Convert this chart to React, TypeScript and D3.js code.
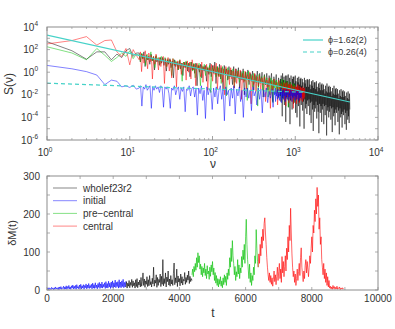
import React from 'react';
import * as d3 from 'd3';

// ---- top panel: spectra S(nu), stored as log10(S)
// low part: nu = 1..12, then segments log-spaced between the given nu bounds
const blackLow = [2.7, 1.9, 1.15, 1.8, 1.8, 1.1, 1.6, 1.3, 1.9, 2.1, 1.4, 1.7];
const blackMid = [
  1.7, 0.9, 1.6, 1.2, 1.8, 0.5, 1.5, 1.1, 1.4, 0.7, 1.6, 1.0, 1.3, 0.2, 1.4, 0.9, 1.2, 0.6, 1.3, 0.8,
  1.3, 0.6, 1.2, 0.1, 1.1, 0.7, 1.2, 0.4, 1.0, -0.5, 1.1, 0.5, 0.9, 0.2, 1.0, 0.3, 0.8, -0.3, 0.9, 0.4,
  0.9, 0.1, 0.8, -0.4, 0.9, 0.2, 0.7, -0.1, 0.8, -1.2, 0.6, 0.0, 0.7, -0.5, 0.5, 0.1, 0.6, -0.8, 0.4, -0.2,
  0.8, -0.4, 0.6, -0.1, 0.9, -1.0, 0.5, -0.3, 0.7, -0.6, 0.4, -1.6, 0.6, -0.2, 0.3, -0.7, 0.5, -0.4, 0.2, -1.1,
  0.5, -0.9, 0.3, -0.5, 0.4, -1.4, 0.1, -0.7, 0.3, -2.0, 0.0, -0.6, 0.2, -1.1, -0.1, -0.8, 0.1, -1.6, -0.2, -0.9,
  0.1, -1.3, -0.1, -0.9, 0.0, -2.2, -0.2, -1.1, -0.1, -1.6, -0.3, -1.0, -0.1, -2.6, -0.4, -1.2, -0.2, -1.8, -0.5, -1.3,
];
const blackTail = [
  -0.2, -2.1, -0.6, -2.6, -0.3, -1.5, -0.9, -3.9, -0.1, -2.3, -0.7, -1.8, -0.4, -2.9, -1.0, -1.6, -0.3, -4.4, -0.8, -2.2,
  -0.3, -2.4, -0.8, -1.7, -0.2, -3.1, -1.1, -2.0, -0.5, -4.6, -0.9, -2.5, -0.3, -1.9, -1.2, -3.3, -0.6, -2.2, -0.4, -2.8,
  -0.4, -2.7, -1.0, -2.1, -0.3, -3.6, -0.8, -2.4, -1.3, -4.0, -0.5, -2.0, -0.9, -3.0, -0.4, -2.6, -1.1, -4.8, -0.6, -2.3,
  -0.5, -2.9, -1.2, -2.2, -0.6, -3.4, -0.9, -2.6, -1.4, -5.0, -0.5, -2.4, -1.0, -3.2, -0.7, -2.8, -1.3, -3.7, -0.6, -2.5,
  -0.7, -3.0, -1.3, -2.4, -0.6, -3.8, -1.1, -2.7, -1.5, -4.5, -0.8, -2.6, -1.2, -3.3, -0.7, -5.2, -1.4, -2.9, -0.9, -3.5,
  -0.9, -3.2, -1.5, -2.6, -0.8, -4.1, -1.3, -2.9, -1.7, -3.5, -1.0, -5.4, -1.4, -2.8, -0.9, -3.6, -1.6, -3.0, -1.1, -4.4,
  -1.0, -3.3, -1.6, -2.8, -1.1, -4.6, -1.5, -3.0, -1.9, -3.8, -1.2, -2.9, -1.7, -5.6, -1.0, -3.4, -1.8, -3.1, -1.3, -4.0,
  -1.2, -3.5, -1.8, -3.0, -1.3, -4.2, -1.7, -3.2, -2.1, -5.3, -1.4, -3.1, -1.9, -3.9, -1.2, -3.6, -2.0, -4.7, -1.5, -3.3,
  -1.4, -3.6, -2.0, -3.1, -1.5, -4.4, -1.9, -3.4, -2.3, -5.5, -1.6, -3.2, -2.1, -4.0, -1.5, -3.7, -2.2, -4.9, -1.7, -3.5,
  -1.6, -3.8, -2.2, -3.3, -1.7, -4.6, -2.1, -3.6, -2.5, -5.1, -1.8, -3.4, -2.3, -4.2, -1.7, -3.9, -2.4, -4.5, -1.9, -3.3,
];
const blackNu = [13, 650, 4570];

const redLow = [2.5, 2.8, 3.15, 2.4, 2.8, 2.85, 1.8, 1.4, 2.1, 0.65, 2.0, 1.5];
const redMid = [
  1.1, 1.8, 0.05, 1.6, 0.8, 1.9, 1.2, 0.3, 1.7, 0.9, 1.5, -0.6, 1.4, 0.7, 1.6, 1.0, 0.2, 1.3, 0.5, 1.2,
  1.4, -1.0, 1.2, 0.5, 1.3, 0.1, 1.1, -0.5, 1.2, 0.6, 0.9, -1.3, 1.0, 0.3, 1.1, -0.2, 0.8, 0.4, 0.9, -0.7,
  1.0, 0.0, 0.9, -0.6, 1.1, 0.2, 0.7, -1.2, 0.8, 0.3, 0.6, -0.4, 0.9, -0.9, 0.5, 0.1, 0.7, -1.6, 0.4, -0.1,
  0.7, -0.8, 0.6, -0.2, 0.8, -1.5, 0.4, -0.4, 0.6, -0.9, 0.3, -2.0, 0.5, -0.3, 0.2, -1.1, 0.4, -0.6, 0.1, -1.4,
  0.3, -1.0, 0.1, -0.6, 0.2, -2.4, -0.1, -0.9, 0.1, -1.5, -0.2, -0.8, 0.0, -2.8, -0.3, -1.1, -0.1, -1.7, -0.4, -1.2,
  -0.3, -1.5, -0.5, -1.1, -0.4, -2.6, -0.7, -1.3, -0.5, -3.2, -0.8, -1.6, -0.6, -1.2, -0.9, -2.9, -0.7, -1.8, -1.0, -1.4,
];
const redTail = [
  -0.8, -2.0, -1.2, -1.6, -0.9, -2.5, -1.3, -1.8, -1.0, -3.0, -1.4, -1.7, -0.9, -2.2, -1.5, -1.9, -1.1, -2.7, -1.2, -1.8,
  -1.0, -2.3, -1.4, -1.9, -1.1, -2.6, -1.5, -2.0, -1.2, -3.2, -1.3, -1.9, -1.6, -2.4, -1.2, -2.1, -1.4, -2.8, -1.3, -2.0,
  -1.1, -2.4, -1.5, -2.0, -1.2, -2.7, -1.6, -2.1, -1.3, -2.5, -1.4, -2.2, -1.7, -2.6, -1.3, -2.3, -1.5, -2.4, -1.4, -2.2,
];
const redNu = [13, 700, 1300];

const greenLow = [2.25, 1.7, 1.1, 2.1, 1.5, 0.95, 1.3, 1.7, 1.4, 1.9, 1.2, 1.6];
const greenMid = [
  1.5, 0.9, 1.7, 1.2, 1.4, 0.6, 1.6, 1.1, 1.3, 1.8, 1.0, 1.4, 0.4, 1.5, 1.1, 1.3, 0.7, 1.4, 1.0, 1.2,
  1.3, 0.5, 1.2, 0.8, 1.1, -0.3, 1.2, 0.6, 1.0, 0.9, 0.2, 1.1, 0.7, -0.8, 0.9, 0.5, 1.0, 0.3, 0.8, 0.6,
  0.9, 0.1, 0.8, -0.5, 0.7, 0.3, 0.8, -1.2, 0.6, 0.2, 0.7, -0.3, 0.5, 0.0, 0.6, -1.8, 0.4, 0.1, 0.5, -0.4,
  0.5, -0.4, 0.4, -1.0, 0.5, -0.2, 0.3, -2.1, 0.4, -0.6, 0.2, -0.3, 0.3, -1.4, 0.1, -0.5, 0.2, -0.9, 0.0, -0.4,
  0.1, -0.8, 0.0, -2.5, 0.1, -0.7, -0.2, -1.3, -0.1, -0.9, -0.3, -3.0, -0.2, -1.0, -0.4, -1.6, -0.3, -1.1, -0.5, -2.2,
];
const greenTail = [
  -0.4, -1.3, -0.6, -2.0, -0.5, -1.5, -0.7, -2.7, -0.6, -1.4, -0.8, -1.9, -0.7, -1.6, -0.9, -2.3, -0.8, -1.5, -1.0, -1.8,
  -0.6, -1.7, -0.9, -2.4, -0.7, -1.4, -1.0, -2.1, -0.8, -3.1, -1.1, -1.6, -0.9, -2.0, -1.2, -1.7, -1.0, -2.6, -1.1, -1.9,
];
const greenNu = [13, 470, 1000];

const blueLow = [0.6, 0.3, 0.05, -0.25, -1.1, -0.7, -0.8, -1.3, -1.2, -1.35, -1.15, -1.5];
const blueMid = [
  -1.4, -1.2, -3.0, -1.3, -1.5, -1.1, -1.6, -1.4, -1.2, -3.2, -1.3, -1.6, -1.2, -1.5, -1.3, -1.8, -1.2, -1.4, -3.1, -1.3,
  -1.5, -1.3, -1.9, -3.2, -1.4, -1.6, -1.2, -2.0, -1.5, -1.3, -2.4, -1.4, -1.7, -1.3, -3.5, -1.5, -1.6, -1.2, -2.1, -1.4,
  -1.3, -2.2, -1.5, -3.8, -1.4, -1.9, -1.2, -2.5, -1.6, -4.1, -1.3, -2.0, -1.5, -1.7, -3.3, -1.4, -2.2, -1.3, -2.8, -1.6,
  -1.2, -2.4, -1.5, -4.3, -1.3, -2.0, -1.6, -3.0, -1.4, -2.3, -1.2, -3.7, -1.5, -2.1, -1.3, -2.6, -1.6, -4.0, -1.4, -2.2,
  -1.4, -2.3, -1.6, -3.4, -1.3, -2.1, -1.7, -2.9, -1.4, -2.4, -1.5, -3.6, -1.6, -2.2, -1.4, -2.7, -1.7, -2.3, -1.5, -3.1,
];
const blueTail = [
  -1.5, -2.3, -1.7, -2.0, -1.4, -2.6, -1.8, -2.1, -1.6, -2.4, -1.5, -2.2, -1.9, -2.5, -1.6, -2.0, -1.4, -2.7, -1.7, -2.2,
  -1.6, -2.4, -1.5, -2.1, -1.8, -2.6, -1.6, -2.3, -1.5, -2.0, -1.7, -2.5, -1.6, -2.2, -1.9, -2.4, -1.5, -2.1, -1.7, -2.6,
  -1.6, -2.3, -1.8, -2.1, -1.5, -2.5, -1.7, -2.2, -1.6, -2.4, -1.8, -2.0, -1.6, -2.5, -1.7, -2.3, -1.6, -2.2, -1.8, -2.4,
];
const blueNu = [13, 540, 1200];

// power-law fits S = amp * nu^-phi
const fitLabels = ['ϕ=1.62(2)', 'ϕ=0.26(4)'];
const fitPhi = [1.62, 0.26];
const fitAmp = [1950, 0.107];
const fitNuEnd = [4570, 1300];

// ---- bottom panel: deltaM(t), evenly sampled segments
const blueT0 = 0, blueDt = 20;
const blueDM = [
  2, 5, 1, 6, 2, 4, 1, 7, 3, 5, 1, 6, 2, 8, 3, 5, 2, 7, 1, 8,
  3, 9, 2, 6, 4, 10, 2, 8, 3, 11, 2, 9, 4, 12, 3, 8, 2, 11, 5, 13,
  3, 10, 4, 12, 2, 14, 5, 9, 3, 13, 4, 15, 3, 11, 5, 14, 2, 12, 6, 16,
  3, 13, 5, 17, 4, 12, 6, 15, 3, 18, 5, 14, 4, 19, 6, 13, 3, 17, 7, 20,
  4, 16, 6, 21, 5, 15, 8, 19, 4, 22, 6, 17, 5, 23, 8, 18, 4, 21, 7, 24,
  5, 19, 8, 26, 6, 20, 9, 22, 5, 27, 7, 21, 6, 24, 9, 28, 6, 20, 8, 23,
];
const blackT0 = 2380, blackDt = 20;
const blackDM = [
  8, 22, 5, 18, 10, 25, 6, 20, 12, 28, 7, 24, 11, 19, 5, 27, 9, 30, 6, 21,
  13, 26, 8, 33, 10, 22, 45, 12, 29, 7, 24, 15, 35, 9, 27, 11, 38, 14, 22, 8,
  31, 16, 60, 10, 26, 18, 40, 7, 33, 12, 28, 20, 42, 9, 36, 15, 80, 11, 30, 17,
  45, 8, 34, 22, 50, 13, 29, 10, 38, 16, 27, 12, 44, 71, 14, 32, 19, 55, 9, 37,
  21, 30, 11, 42, 18, 35, 13, 28, 24, 46, 15, 33, 20, 39, 26, 50, 17, 36, 22, 30, 25,
];
const greenT0 = 4380, greenDt = 20;
const greenDM = [
  40, 55, 35, 62, 48, 70, 52, 85, 60, 98, 72, 90, 55, 68, 40, 62, 35, 58, 45, 70,
  38, 55, 30, 64, 42, 50, 28, 60, 36, 66, 48, 75, 40, 58, 25, 46, 18, 38, 12, 30,
  8, 28, 15, 35, 10, 24, 6, 32, 14, 40, 20, 36, 12, 45, 28, 55, 38, 85, 60, 110,
  75, 130, 90, 70, 40, 62, 25, 48, 35, 80, 42, 66, 30, 58, 45, 88, 60, 105, 80, 120,
  70, 140, 186, 120, 80, 55, 30, 68, 20, 45, 12, 38, 25, 60, 40, 90, 70, 159, 110, 75, 60,
];
const redT0 = 6380, redDt = 20;
const redDM = [
  60, 95, 70, 120, 90, 140, 110, 160, 130, 175, 190, 150, 120, 85, 60, 40, 25, 45, 20, 38,
  15, 32, 10, 28, 50, 22, 40, 14, 35, 60, 25, 48, 70, 30, 55, 20, 88, 45, 75, 35,
  62, 90, 50, 110, 80, 140, 100, 170, 130, 215, 150, 95, 60, 35, 50, 20, 42, 12, 30, 55,
  25, 48, 70, 38, 85, 111, 60, 40, 22, 50, 30, 65, 80, 45, 75, 55, 35, 60, 90, 70,
  110, 140, 100, 170, 150, 210, 180, 240, 200, 270, 220, 250, 160, 190, 120, 140, 80, 60, 40, 70,
  30, 55, 20, 45, 12, 35, 8, 25, 5, 10, 3, 8, 2, 12, 4, 9, 2, 7, 3, 10,
  2, 6, 4, 8, 1, 5, 3, 6, 2, 4,
];

const legendNames = ['wholef23r2', 'initial', 'pre\u2212central', 'central'];
const seriesColors = ['#000000', '#0000ff', '#00c000', '#ff0000'];

const xTicksTop = [1, 10, 100, 1000, 10000];
const yTicksTop = [1e-6, 1e-4, 1e-2, 1, 1e2, 1e4];
const xTicksBot = [0, 2000, 4000, 6000, 8000, 10000];
const yTicksBot = [0, 100, 200, 300];

const FONT = 'Liberation Sans, Arial, Helvetica, sans-serif';
const FRAME = '#8c8c8c';
const TXT = '#333';

const xS = d3.scaleLog().domain([1, 1e4]).range([47, 378]);
const yS = d3.scaleLog().domain([1e-6, 1e4]).range([140, 27]);
const xT = d3.scaleLinear().domain([0, 10000]).range([47, 378]);
const yT = d3.scaleLinear().domain([0, 300]).range([290, 176]);

// low values sit on nu = 1..12; each later segment is spread log-evenly between its bounds
function spectrum(low: number[], segs: number[][], bounds: number[]): [number, number][] {
  const pts: [number, number][] = low.map((v, i) => [i + 1, Math.pow(10, v)]);
  segs.forEach((vals, s) => {
    const a = bounds[s], b = bounds[s + 1], n = vals.length;
    vals.forEach((v, i) => {
      if (s > 0 && i === 0) return;
      pts.push([a * Math.pow(b / a, i / (n - 1)), Math.pow(10, v)]);
    });
  });
  return pts;
}

function timeSeries(t0: number, dt: number, vals: number[]): [number, number][] {
  return vals.map((v, i) => [t0 + i * dt, v]);
}

const specLine = d3.line<[number, number]>().x(d => xS(d[0])).y(d => yS(d[1]));
const timeLine = d3.line<[number, number]>().x(d => xT(d[0])).y(d => yT(d[1]));

function Pow10({ x, y, e, anchor }: { x: number; y: number; e: number; anchor: string }) {
  return (
    <text x={x} y={y} textAnchor={anchor} fontSize={10} fill={TXT} fontFamily={FONT}>
      10<tspan dy={-4.5} fontSize={6.5}>{String(e)}</tspan>
    </text>
  );
}

export default function App() {
  // draw order: whole, pre-central, central, initial
  const spectra = [
    { pts: spectrum(blackLow, [blackMid, blackTail], blackNu), c: seriesColors[0] },
    { pts: spectrum(greenLow, [greenMid, greenTail], greenNu), c: seriesColors[2] },
    { pts: spectrum(redLow, [redMid, redTail], redNu), c: seriesColors[3] },
    { pts: spectrum(blueLow, [blueMid, blueTail], blueNu), c: seriesColors[1] },
  ];
  const times = [
    { pts: timeSeries(blackT0, blackDt, blackDM), c: seriesColors[0] },
    { pts: timeSeries(blueT0, blueDt, blueDM), c: seriesColors[1] },
    { pts: timeSeries(greenT0, greenDt, greenDM), c: seriesColors[2] },
    { pts: timeSeries(redT0, redDt, redDM), c: seriesColors[3] },
  ];

  const minorX: number[] = [];
  for (let d = 1; d < 1e4; d *= 10) for (let k = 2; k <= 9; k++) minorX.push(d * k);
  const minorY: number[] = [];
  for (let d = 1e-6; d < 1e4; d *= 10) minorY.push(d);
  const minorXB = d3.range(0, 10001, 1000);
  const minorYB = d3.range(0, 301, 50);

  const [tx0, tx1] = xS.range();
  const [ty1, ty0] = yS.range();
  const [bx0, bx1] = xT.range();
  const [by1, by0] = yT.range();

  return (
    <svg width={395} height={329} style={{ position: 'absolute', left: 0, top: 0, background: '#fff' }}>
      <defs>
        <clipPath id="clipTop"><rect x={tx0} y={ty0} width={tx1 - tx0} height={ty1 - ty0} /></clipPath>
        <clipPath id="clipBot"><rect x={bx0} y={by0} width={bx1 - bx0} height={by1 - by0} /></clipPath>
      </defs>

      {/* ---------- top panel ---------- */}
      <g clipPath="url(#clipTop)">
        {spectra.map((s, i) => (
          <path key={i} d={specLine(s.pts) || ''} fill="none" stroke={s.c} strokeWidth={0.7} strokeOpacity={0.7} />
        ))}
        {fitPhi.map((phi, i) => (
          <line key={i}
            x1={xS(1)} y1={yS(fitAmp[i])}
            x2={xS(fitNuEnd[i])} y2={yS(fitAmp[i] * Math.pow(fitNuEnd[i], -phi))}
            stroke="#46d2c8" strokeWidth={1.2} strokeDasharray={i === 1 ? '4,3' : undefined} />
        ))}
      </g>
      <rect x={tx0} y={ty0} width={tx1 - tx0} height={ty1 - ty0} fill="none" stroke={FRAME} strokeWidth={1} />
      {minorX.map((v, i) => (
        <g key={'mx' + i} stroke={FRAME} strokeWidth={0.6}>
          <line x1={xS(v)} x2={xS(v)} y1={ty1} y2={ty1 - 2} />
          <line x1={xS(v)} x2={xS(v)} y1={ty0} y2={ty0 + 2} />
        </g>
      ))}
      {xTicksTop.map((v, i) => (
        <g key={'xt' + i}>
          <line x1={xS(v)} x2={xS(v)} y1={ty1} y2={ty1 - 4} stroke={FRAME} strokeWidth={0.8} />
          <line x1={xS(v)} x2={xS(v)} y1={ty0} y2={ty0 + 4} stroke={FRAME} strokeWidth={0.8} />
          <Pow10 x={xS(v) - 2} y={156} e={Math.round(Math.log10(v))} anchor="middle" />
        </g>
      ))}
      {minorY.map((v, i) => (
        <g key={'my' + i} stroke={FRAME} strokeWidth={0.7}>
          <line x1={tx0} x2={tx0 + 3} y1={yS(v)} y2={yS(v)} />
          <line x1={tx1} x2={tx1 - 3} y1={yS(v)} y2={yS(v)} />
        </g>
      ))}
      {yTicksTop.map((v, i) => (
        <Pow10 key={'yt' + i} x={38} y={yS(v) + 3.5} e={Math.round(Math.log10(v))} anchor="end" />
      ))}
      <text x={213} y={168} textAnchor="middle" fontSize={12} fill={TXT} fontFamily={FONT}>ν</text>
      <text transform="translate(13,84) rotate(-90)" textAnchor="middle" fontSize={12} fill={TXT} fontFamily={FONT}>S(ν)</text>
      {fitLabels.map((lab, i) => (
        <g key={'fl' + i}>
          <line x1={303} x2={323} y1={40 + i * 12} y2={40 + i * 12} stroke="#46d2c8" strokeWidth={1.2}
            strokeDasharray={i === 1 ? '4,3' : undefined} />
          <text x={328} y={43 + i * 12} fontSize={9} fill={TXT} fontFamily={FONT}>{lab}</text>
        </g>
      ))}

      {/* ---------- bottom panel ---------- */}
      <g clipPath="url(#clipBot)">
        {times.map((s, i) => (
          <path key={i} d={timeLine(s.pts) || ''} fill="none" stroke={s.c} strokeWidth={0.75} strokeOpacity={0.8} />
        ))}
      </g>
      <rect x={bx0} y={by0} width={bx1 - bx0} height={by1 - by0} fill="none" stroke={FRAME} strokeWidth={1} />
      {minorXB.map((v, i) => (
        <g key={'bx' + i} stroke={FRAME} strokeWidth={0.7}>
          <line x1={xT(v)} x2={xT(v)} y1={by1} y2={by1 - 3} />
          <line x1={xT(v)} x2={xT(v)} y1={by0} y2={by0 + 3} />
        </g>
      ))}
      {minorYB.map((v, i) => (
        <g key={'by' + i} stroke={FRAME} strokeWidth={0.7}>
          <line x1={bx0} x2={bx0 + 3} y1={yT(v)} y2={yT(v)} />
          <line x1={bx1} x2={bx1 - 3} y1={yT(v)} y2={yT(v)} />
        </g>
      ))}
      {xTicksBot.map((v, i) => (
        <text key={'xb' + i} x={xT(v)} y={302} textAnchor="middle" fontSize={10} fill={TXT} fontFamily={FONT}>{v}</text>
      ))}
      {yTicksBot.map((v, i) => (
        <text key={'yb' + i} x={40} y={yT(v) + 3.5} textAnchor="end" fontSize={10} fill={TXT} fontFamily={FONT}>{v}</text>
      ))}
      <text x={213} y={317} textAnchor="middle" fontSize={12} fill={TXT} fontFamily={FONT}>t</text>
      <text transform="translate(16,233) rotate(-90)" textAnchor="middle" fontSize={11} fill={TXT} fontFamily={FONT}>δM(t)</text>
      {legendNames.map((name, i) => (
        <g key={'lg' + i}>
          <line x1={53} x2={77} y1={188 + i * 12.7} y2={188 + i * 12.7} stroke={seriesColors[i]} strokeWidth={0.8} strokeOpacity={0.6} />
          <text x={83} y={191.5 + i * 12.7} fontSize={10} fill={TXT} fontFamily={FONT}>{name}</text>
        </g>
      ))}
    </svg>
  );
}
